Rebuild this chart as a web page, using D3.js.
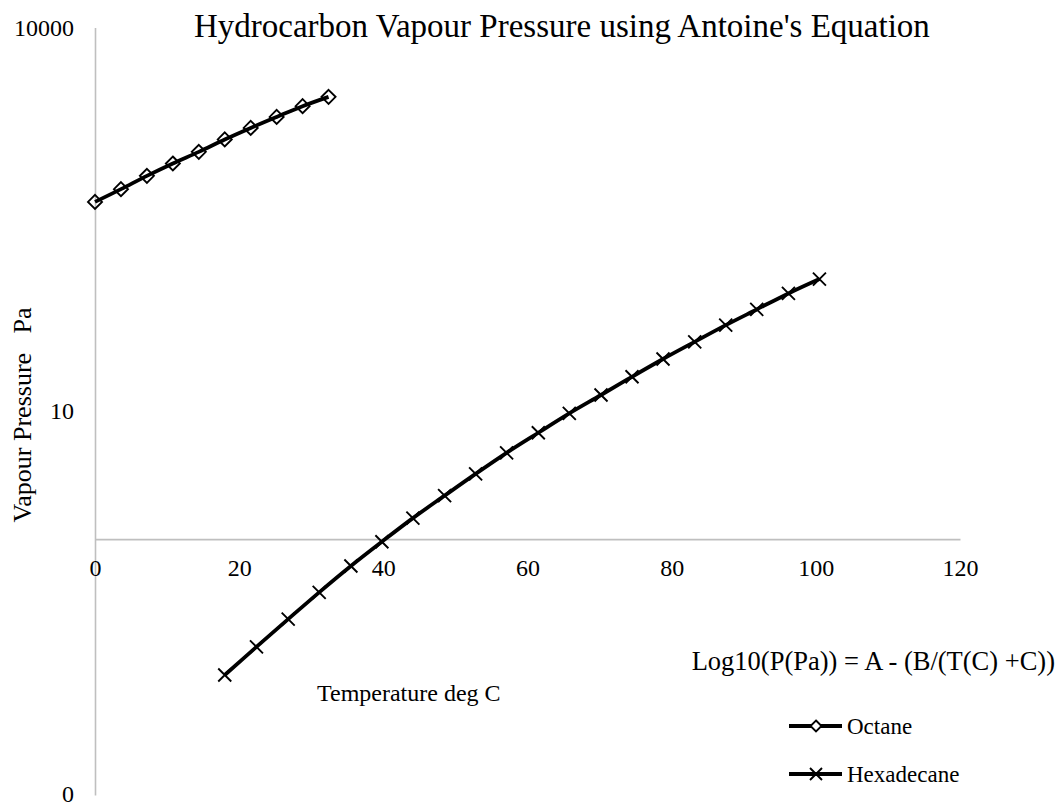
<!DOCTYPE html>
<html>
<head>
<meta charset="utf-8">
<script src="https://cdn.jsdelivr.net/npm/d3@7"></script>
<style>
  html, body { margin: 0; padding: 0; background: #fff; }
  svg { display: block; font-family: "Liberation Serif", "Times New Roman", serif; }
</style>
</head>
<body>
<svg id="chart" width="1060" height="806"></svg>
<script>
// Vapour pressure (Pa) against temperature (deg C)
const octaneT = [0, 3.6, 7.2, 10.8, 14.4, 18.0, 21.6, 25.2, 28.8, 32.4];
const octaneP = [433, 545, 692, 865, 1066, 1333, 1641, 2000, 2426, 2869];

const hexadecaneT = [18.0, 22.4, 26.8, 31.1, 35.5, 39.8, 44.1, 48.5, 52.8, 57.1,
                     61.5, 65.8, 70.2, 74.5, 78.8, 83.2, 87.5, 91.8, 96.2, 100.5];
const hexadecaneP = [0.0867, 0.144, 0.237, 0.384, 0.617, 0.955, 1.46, 2.19, 3.24, 4.73,
                     6.79, 9.62, 13.4, 18.6, 25.6, 34.9, 47.1, 62.5, 83.4, 108];

const xTicks = [0, 20, 40, 60, 80, 100, 120];
const yTicks = [0.01, 10, 10000];
const yTickLabels = ["0", "10", "10000"];

const seriesNames = ["Octane", "Hexadecane"];

const FONT = "Liberation Serif, Times New Roman, serif";
const svg = d3.select("#chart");

const x = d3.scaleLinear().domain([0, 120]).range([95, 960]);
const y = d3.scaleLog().domain([0.01, 10000]).range([795, 27.5]);

const axisColor = "#bfbfbf";

// y axis (value axis, log scale)
const yAxis = svg.append("g")
  .attr("transform", `translate(${x(0)},0)`)
  .call(d3.axisLeft(y).tickValues(yTicks)
    .tickFormat((d, i) => yTickLabels[i])
    .tickSize(0).tickPadding(21));
yAxis.select(".domain").attr("stroke", axisColor).attr("stroke-width", 1.6);
yAxis.selectAll("text").attr("font-size", 24).attr("fill", "#000")
  .attr("font-family", FONT);
// keep the bottom label inside the drawing
yAxis.selectAll("text").filter(d => d === 0.01).attr("dy", "0.26em");

// x axis crossing at 1 Pa
const xAxis = svg.append("g")
  .attr("transform", `translate(0,${y(1)})`)
  .call(d3.axisBottom(x).tickValues(xTicks).tickFormat(d3.format("d"))
    .tickSize(0).tickPadding(20));
xAxis.select(".domain").attr("stroke", axisColor).attr("stroke-width", 1.6);
xAxis.selectAll("text").attr("font-size", 24).attr("fill", "#000")
  .attr("font-family", FONT);

// smoothed series lines
const line = d3.line()
  .x(d => x(d[0]))
  .y(d => y(d[1]))
  .curve(d3.curveCatmullRom.alpha(0.5));

const octane = octaneT.map((t, i) => [t, octaneP[i]]);
const hexadecane = hexadecaneT.map((t, i) => [t, hexadecaneP[i]]);

const lineWidth = 3.8;
[octane, hexadecane].forEach(series => {
  svg.append("path").datum(series)
    .attr("d", line).attr("fill", "none")
    .attr("stroke", "#000").attr("stroke-width", lineWidth)
    .attr("stroke-linejoin", "round");
});

// marker shapes
const diamond = r => `M0,${-r}L${r},0L0,${r}L${-r},0Z`;
const cross = r => `M${-r},${-r}L${r},${r}M${-r},${r}L${r},${-r}`;

svg.append("g").selectAll("path").data(octane).join("path")
  .attr("transform", d => `translate(${x(d[0])},${y(d[1])})`)
  .attr("d", diamond(7))
  .attr("fill", "none").attr("stroke", "#000").attr("stroke-width", 1.9);

svg.append("g").selectAll("path").data(hexadecane).join("path")
  .attr("transform", d => `translate(${x(d[0])},${y(d[1])})`)
  .attr("d", cross(6.5))
  .attr("fill", "none").attr("stroke", "#000").attr("stroke-width", 1.9);

// title
svg.append("text")
  .attr("x", 194).attr("y", 37)
  .attr("font-size", 33).attr("fill", "#000")
  .text("Hydrocarbon Vapour Pressure using Antoine's Equation");

// axis titles
svg.append("text")
  .attr("x", 317).attr("y", 701)
  .attr("font-size", 24).attr("fill", "#000")
  .text("Temperature deg C");

svg.append("text")
  .attr("transform", "translate(31,415) rotate(-90)")
  .attr("text-anchor", "middle")
  .attr("font-size", 26).attr("fill", "#000")
  .style("white-space", "pre")
  .text("Vapour Pressure   Pa");

// equation note
svg.append("text")
  .attr("x", 1055).attr("y", 670)
  .attr("text-anchor", "end")
  .attr("font-size", 26.5).attr("fill", "#000")
  .text("Log10(P(Pa)) = A - (B/(T(C) +C))");

// legend
const legend = svg.append("g");
const legendY = [726, 774];
seriesNames.forEach((name, i) => {
  const g = legend.append("g").attr("transform", `translate(0,${legendY[i]})`);
  g.append("line").attr("x1", 789).attr("x2", 842).attr("y1", 0).attr("y2", 0)
    .attr("stroke", "#000").attr("stroke-width", lineWidth);
  g.append("path").attr("transform", "translate(816,0)")
    .attr("d", i === 0 ? diamond(5.5) : cross(6))
    .attr("fill", i === 0 ? "#fff" : "none")
    .attr("stroke", "#000").attr("stroke-width", 1.9);
  g.append("text").attr("x", 847).attr("y", 7.8)
    .attr("font-size", 23).attr("fill", "#000")
    .text(name);
});
</script>
</body>
</html>
